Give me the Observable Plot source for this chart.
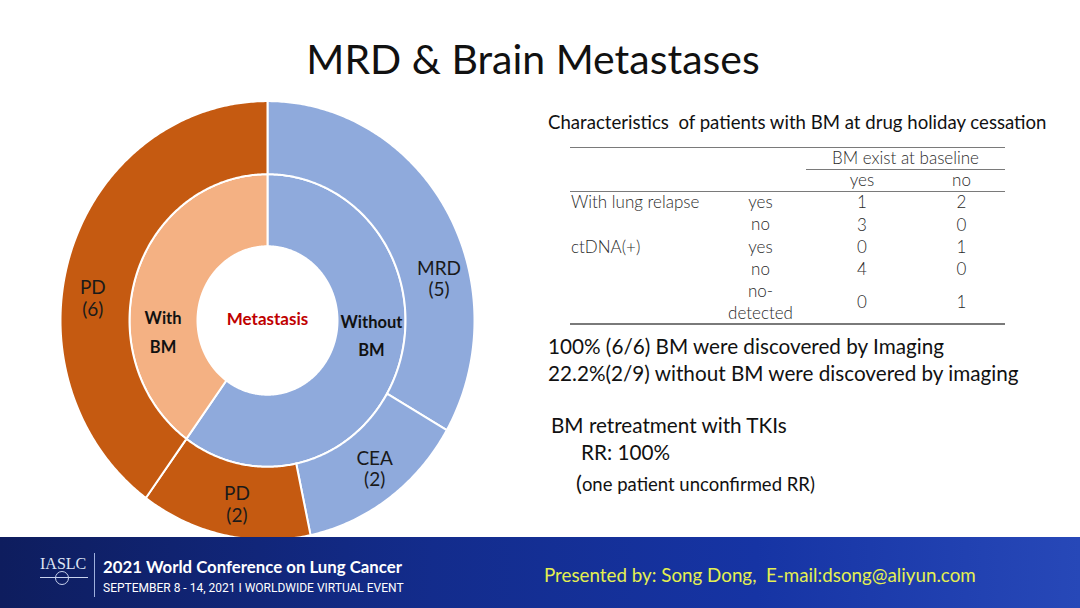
<!DOCTYPE html>
<html>
<head>
<meta charset="utf-8">
<script src="https://cdn.jsdelivr.net/npm/d3@7"></script>
<script src="https://cdn.jsdelivr.net/npm/@observablehq/plot@0.6"></script>
<style>
  html, body { margin: 0; padding: 0; }
  body { width: 1080px; height: 608px; position: relative; overflow: hidden; background: #fff; font-family: Lato, "Open Sans", sans-serif; color: #111; }
  .abs { position: absolute; white-space: nowrap; }
  #title { left: 0; width: 1066px; top: 35px; text-align: center; font-size: 41px; line-height: 48px; color: #111; }
  #chart { left: 0; top: 90px; }
  #tabletitle { left: 548px; top: 111px; font-size: 18.6px; color: #111; }
  .cell { position: absolute; text-align: center; font-size: 17px; color: #2a2a2a; font-weight: 300; line-height: 22px; }
  .rule { position: absolute; background: #7a7a7a; height: 1px; }
  .note { font-size: 20.7px; color: #111; }
  #footer { left: 0; top: 537px; width: 1080px; height: 71px; background: linear-gradient(90deg, #0e1d5e 0%, #132c8c 40%, #1634a4 70%, #2748b8 100%); }
</style>
</head>
<body>
<div id="title" class="abs">MRD &amp; Brain Metastases</div>
<div id="chart" class="abs"></div>
<div id="tabletitle" class="abs">Characteristics&nbsp; of patients with BM at drug holiday cessation</div>
<div id="table"></div>
<div class="abs note" style="left:548px; top:334px;">100% (6/6) BM were discovered by Imaging</div>
<div class="abs note" style="left:548px; top:361px;">22.2%(2/9) without BM were discovered by imaging</div>
<div class="abs note" style="left:551px; top:413px;">BM retreatment with TKIs</div>
<div class="abs note" style="left:581px; top:440px;">RR: 100%</div>
<div class="abs" style="left:576px; top:469px; font-size:18.5px; color:#111;"><span style="font-size:22px;">(</span>one patient unconfirmed RR)</div>
<div id="footer" class="abs">
  <div class="abs" style="left:40px; top:18px; font-family:'Liberation Serif',serif; font-size:16px; color:#dfe6f5;">IASLC</div>
  <div class="abs" style="left:40px; top:40px; width:48px; height:1px; background:#c9d3ee;"></div>
  <div class="abs" style="left:55px; top:34px; width:12px; height:12px; border:1px solid #c9d3ee; border-radius:50%;"></div>
  <div class="abs" style="left:94px; top:16px; width:1px; height:44px; background:#9fb0dd;"></div>
  <div class="abs" style="left:103px; top:19px; font-size:16.8px; font-weight:bold; color:#fff;">2021 World Conference on Lung Cancer</div>
  <div class="abs" style="left:103px; top:44px; font-size:12px; color:#fff; font-family:'Liberation Sans Narrow','Roboto',sans-serif;">SEPTEMBER 8 - 14, 2021 I WORLDWIDE VIRTUAL EVENT</div>
  <div class="abs" style="left:544px; top:26px; font-size:18.8px; color:#e4f050;">Presented by: Song Dong,&nbsp; E-mail:dsong@aliyun.com</div>
</div>
<script>
// ---- Donut data ----
const innerLabels = ["Without\nBM", "With\nBM"];
const innerValues = [9, 6];
const innerColors = ["#8FAADC", "#F4B183"];
const outerLabels = ["MRD\n(5)", "CEA\n(2)", "PD\n(2)", "PD\n(6)"];
const outerValues = [5, 2, 2, 6];
const outerColors = ["#8FAADC", "#8FAADC", "#C55A11", "#C55A11"];
const centerLabel = "Metastasis";

// ---- Table data ----
const tableTitle = "BM exist at baseline";
const colHeads = ["yes", "no"];
const rowGroups = ["With lung relapse", "", "ctDNA(+)", "", ""];
const rowLevels = ["yes", "no", "yes", "no", "no-\ndetected"];
const bmYes = [1, 3, 0, 4, 0];
const bmNo = [2, 0, 1, 0, 1];

// ---- geometry (layout constants) ----
const R0 = 70, R1 = 138, R2 = 207;
const pie = d3.pie().sort(null).value(d => d.value);
const innerArcs = pie(innerValues.map((v, i) => ({value: v, label: innerLabels[i], color: innerColors[i]})));
const outerArcs = pie(outerValues.map((v, i) => ({value: v, label: outerLabels[i], color: outerColors[i]})));

function ring(arcs, r0, r1, prefix) {
  const pts = [];
  arcs.forEach((a, k) => {
    const n = Math.max(8, Math.ceil((a.endAngle - a.startAngle) / 0.01));
    const id = prefix + k;
    for (let j = 0; j <= n; j++) {
      const t = a.startAngle + (a.endAngle - a.startAngle) * j / n;
      pts.push({id, color: a.data.color, x: r1 * Math.sin(t), y: r1 * Math.cos(t)});
    }
    for (let j = n; j >= 0; j--) {
      const t = a.startAngle + (a.endAngle - a.startAngle) * j / n;
      pts.push({id, color: a.data.color, x: r0 * Math.sin(t), y: r0 * Math.cos(t)});
    }
  });
  return pts;
}
const polys = ring(innerArcs, R0, R1, "in").concat(ring(outerArcs, R1, R2, "out"));

// label placement: slice mid-angle plus a small layout nudge (degrees)
const outerNudge = [17, -1.5, -2, -11];
const innerNudge = [-10, -24];
const deg = Math.PI / 180;
const outerText = outerArcs.map((a, i) => {
  const m = (a.startAngle + a.endAngle) / 2 + outerNudge[i] * deg;
  return {x: 176 * Math.sin(m), y: 176 * Math.cos(m), label: a.data.label};
});
const innerText = innerArcs.map((a, i) => {
  const m = (a.startAngle + a.endAngle) / 2 + innerNudge[i] * deg;
  return {x: 105 * Math.sin(m), y: 105 * Math.cos(m) + 3, label: a.data.label};
});

const chart = Plot.plot({
  width: 540,
  height: 460,
  margin: 0,
  x: {domain: [-267, 273], axis: null},
  y: {domain: [-217, 217], axis: null},
  style: {fontFamily: "Lato, 'Open Sans', sans-serif", background: "transparent"},
  marks: [
    Plot.line(polys, {x: "x", y: "y", z: "id", fill: "color", stroke: "white", strokeWidth: 2, curve: "linear-closed"}),
    Plot.text(outerText, {x: "x", y: "y", text: "label", fontSize: 19, lineHeight: 1.15, fill: "#1a1a1a"}),
    Plot.text(innerText, {x: "x", y: "y", text: "label", fontSize: 16.5, fontWeight: "bold", lineHeight: 1.75, fill: "#111"}),
    Plot.text([centerLabel], {x: () => 0, y: () => 1, text: d => d, fontSize: 17, fontWeight: "bold", fill: "#C00000"})
  ]
});
document.getElementById("chart").appendChild(chart);

// ---- build table ----
const T = document.getElementById("table");
function add(cls, style, text) {
  const d = document.createElement("div");
  d.className = cls;
  Object.assign(d.style, style);
  if (text !== undefined) d.textContent = text;
  T.appendChild(d);
  return d;
}
const colX = [571, 715, 806, 918, 1005]; // column edges
const rowTop = [191, 213, 236, 258, 280];
const rowH = [22, 23, 22, 22, 44];
add("rule", {left: "570px", top: "147px", width: "435px"});
add("cell", {left: colX[2] + "px", top: "147px", width: (colX[4] - colX[2]) + "px"}, tableTitle);
add("rule", {left: "806px", top: "169px", width: "199px"});
colHeads.forEach((h, j) => add("cell", {left: colX[2 + j] + "px", top: "169px", width: (colX[3 + j] - colX[2 + j]) + "px"}, h));
add("rule", {left: "570px", top: "191px", width: "435px"});
rowLevels.forEach((lv, i) => {
  const top = rowTop[i], h = rowH[i];
  add("cell", {left: colX[0] + "px", top: top + "px", textAlign: "left", width: "150px", height: h + "px", lineHeight: h + "px"}, rowGroups[i]);
  const lvDiv = add("cell", {left: colX[1] + "px", top: top + "px", width: (colX[2] - colX[1]) + "px", height: h + "px", whiteSpace: "pre-line"}, lv);
  lvDiv.style.lineHeight = (h > 22 ? 22 : h) + "px";
  add("cell", {left: colX[2] + "px", top: top + "px", width: (colX[3] - colX[2]) + "px", lineHeight: h + "px"}, String(bmYes[i]));
  add("cell", {left: colX[3] + "px", top: top + "px", width: (colX[4] - colX[3]) + "px", lineHeight: h + "px"}, String(bmNo[i]));
});
add("rule", {left: "570px", top: "323px", width: "435px", height: "2px"});
</script>
</body>
</html>
